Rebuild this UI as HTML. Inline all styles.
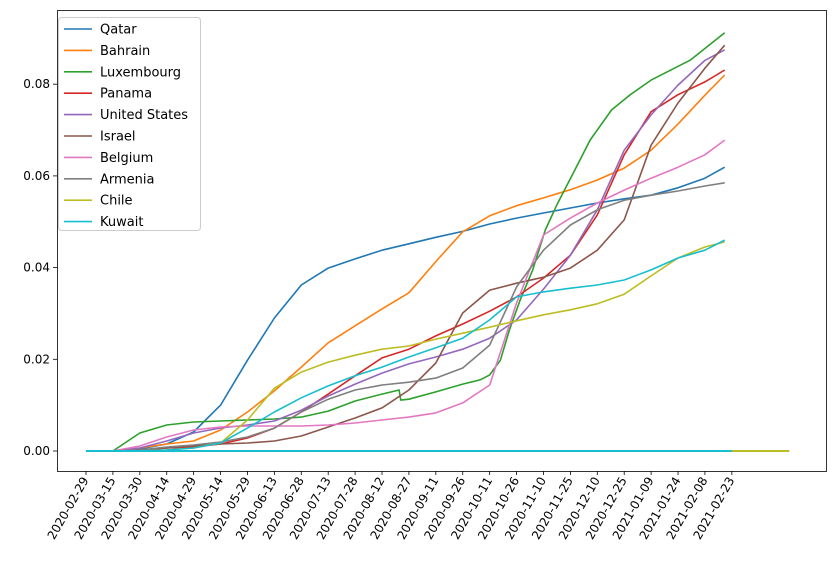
<!DOCTYPE html>
<html><head><meta charset="utf-8"><style>
body{margin:0;background:#fff;font-family:"Liberation Sans","DejaVu Sans",sans-serif}
svg text{font-family:"DejaVu Sans","Liberation Sans",sans-serif}
</style></head><body>
<svg id="chart" width="835" height="568" viewBox="0 0 835 568" xmlns="http://www.w3.org/2000/svg">
<rect width="835" height="568" fill="#fff"/>
<g id="grid"></g><g id="series"></g>
<rect x="57.5" y="10.5" width="769" height="461" fill="none" stroke="#000" stroke-width="0.8"/>
<g id="axes"></g><g id="legend"></g>
</svg>
<script>
const xTickLabels=["2020-02-29","2020-03-15","2020-03-30","2020-04-14","2020-04-29","2020-05-14","2020-05-29","2020-06-13","2020-06-28","2020-07-13","2020-07-28","2020-08-12","2020-08-27","2020-09-11","2020-09-26","2020-10-11","2020-10-26","2020-11-10","2020-11-25","2020-12-10","2020-12-25","2021-01-09","2021-01-24","2021-02-08","2021-02-23"];
const yTicks=[0,0.02,0.04,0.06,0.08];
const days=[0,15,30,45,60,75,90,105,120,135,150,165,180,195,210,225,240,255,270,285,300,315,330,345,356];
const qatar=[0,0,0.44,1.53,4.14,10.0,19.8,29.0,36.2,39.9,41.9,43.8,45.2,46.6,47.9,49.5,50.8,51.9,53.0,54.1,55.0,55.8,57.4,59.5,61.9];
const bahrain=[0,0,0.65,1.53,2.18,4.58,8.5,13.1,18.3,23.6,27.3,31.0,34.5,41.3,47.8,51.3,53.5,55.2,57.0,59.1,61.7,65.6,71.3,77.6,82.0];
const panama=[0,0,0.22,0.65,0.87,1.53,2.83,5.0,8.5,12.4,16.4,20.3,22.2,25.1,27.7,30.5,33.6,37.7,42.7,51.5,64.6,74.0,77.7,80.5,83.1];
const unitedStates=[0,0,0.65,2.18,3.93,5.02,5.67,6.54,8.9,12.0,14.6,17.0,19.0,20.5,22.2,24.6,28.6,35.3,42.7,52.6,65.6,73.3,79.8,85.2,87.5];
const israel=[0,0,0.22,0.65,1.09,1.53,1.74,2.18,3.27,5.23,7.2,9.4,13.3,19.2,30.1,35.1,36.6,37.9,39.9,43.8,50.4,66.7,75.9,83.5,88.5];
const belgium=[0,0,1.09,3.05,4.58,5.23,5.45,5.45,5.45,5.67,6.1,6.76,7.4,8.3,10.5,14.4,32.3,47.1,50.8,54.1,56.9,59.5,61.9,64.6,67.8];
const armenia=[0,0,0.22,0.87,1.31,1.96,3.05,5.0,8.5,11.3,13.3,14.4,15.0,15.9,18.1,23.1,35.8,43.8,49.3,52.6,54.7,55.8,56.7,57.8,58.5];
const chile=[0,0,0,0.22,0.65,1.74,6.76,13.7,17.2,19.4,20.9,22.2,22.9,24.4,25.7,27.0,28.4,29.7,30.8,32.1,34.2,38.2,42.1,44.5,45.6];
const kuwait=[0,0,0,0.22,0.65,1.74,5.0,8.5,11.6,14.2,16.4,18.3,20.5,22.5,24.6,28.6,33.6,34.7,35.5,36.2,37.3,39.5,42.1,43.8,46.0];
const luxDays=[0,15,20,30,45,60,75,105,120,135,150,165,174.5,175.5,180,195,210,219.6,225,231,236,242,249,256,262.5,272.5,281,293,303,315,337,356];
const luxembourg=[0,0,1.31,3.93,5.67,6.32,6.54,6.98,7.4,8.7,10.9,12.4,13.3,11.1,11.3,12.9,14.6,15.5,16.6,19.8,26.4,32.9,39.5,48.2,53.7,61.3,67.8,74.4,77.6,80.9,85.3,91.2];
const baselineDays=[0,392];
const baselineVals=[0,0];
const names=["Qatar","Bahrain","Luxembourg","Panama","United States","Israel","Belgium","Armenia","Chile","Kuwait"];
const colors=["#1f77b4","#ff7f0e","#2ca02c","#d62728","#9467bd","#8c564b","#e377c2","#7f7f7f","#bcbd22","#17becf"];
const seriesVals=[qatar,bahrain,luxembourg,panama,unitedStates,israel,belgium,armenia,chile,kuwait];

const NS="http://www.w3.org/2000/svg";
const X=d=>86+d*1.794;
const Y=v=>451-v*4585;
function mk(tag,attrs,parent){const e=document.createElementNS(NS,tag);for(const k in attrs)e.setAttribute(k,attrs[k]);parent.appendChild(e);return e;}
const axes=document.getElementById('axes'),ser=document.getElementById('series'),leg=document.getElementById('legend');

xTickLabels.forEach((lab,i)=>{
  const x=X(i*15);
  const t=mk('line',{x1:x,x2:x,y1:471,y2:475,stroke:'#000','stroke-width':0.8},axes);
  
  
  const tx=mk('text',{x:x+3,y:480,'font-size':12,'text-anchor':'end',transform:`rotate(-60 ${x+3} 480)`},axes);
  tx.textContent=lab;
  
  
});
yTicks.forEach(v=>{
  const y=Y(v);
  const t=mk('line',{x1:53,x2:57,y1:y,y2:y,stroke:'#000','stroke-width':0.8},axes);
  
  
  const tx=mk('text',{x:50,y:y+4,'font-size':12,'text-anchor':'end'},axes);
  tx.textContent=v.toFixed(2);
  
  
});
function line(ds,vs,color,name){
  const pts=ds.map((d,i)=>X(d).toFixed(1)+','+Y(vs[i]/1000).toFixed(1)).join(' ');
  const p=mk('polyline',{points:pts,fill:'none',stroke:color,'stroke-width':1.6,'stroke-linejoin':'round'},ser);
  
  
}
const bl=mk('polyline',{points:baselineDays.map((d,i)=>X(d)+','+Y(baselineVals[i])).join(' '),fill:'none',stroke:'#bcbd22','stroke-width':2},ser);


seriesVals.forEach((vs,i)=>{
  line(i===2?luxDays:days,vs,colors[i],names[i].toLowerCase().replace(' ','-')+'-line');
});
const bl2=mk('polyline',{points:X(0)+','+Y(0)+' '+X(360)+','+Y(0),fill:'none',stroke:'#17becf','stroke-width':2},ser);



const box=mk('rect',{x:58.5,y:17.5,width:142,height:213,rx:3,fill:'#fff','fill-opacity':0.85,stroke:'#ccc'},leg);


names.forEach((n,i)=>{
  const y=29+i*21.4;
  const l=mk('line',{x1:64,x2:92,y1:y,y2:y,stroke:colors[i],'stroke-width':1.6},leg);
  
  
  const t=mk('text',{x:100,y:y+4.5,'font-size':13},leg);
  t.textContent=n;
  
  
});
</script>
</body></html>
